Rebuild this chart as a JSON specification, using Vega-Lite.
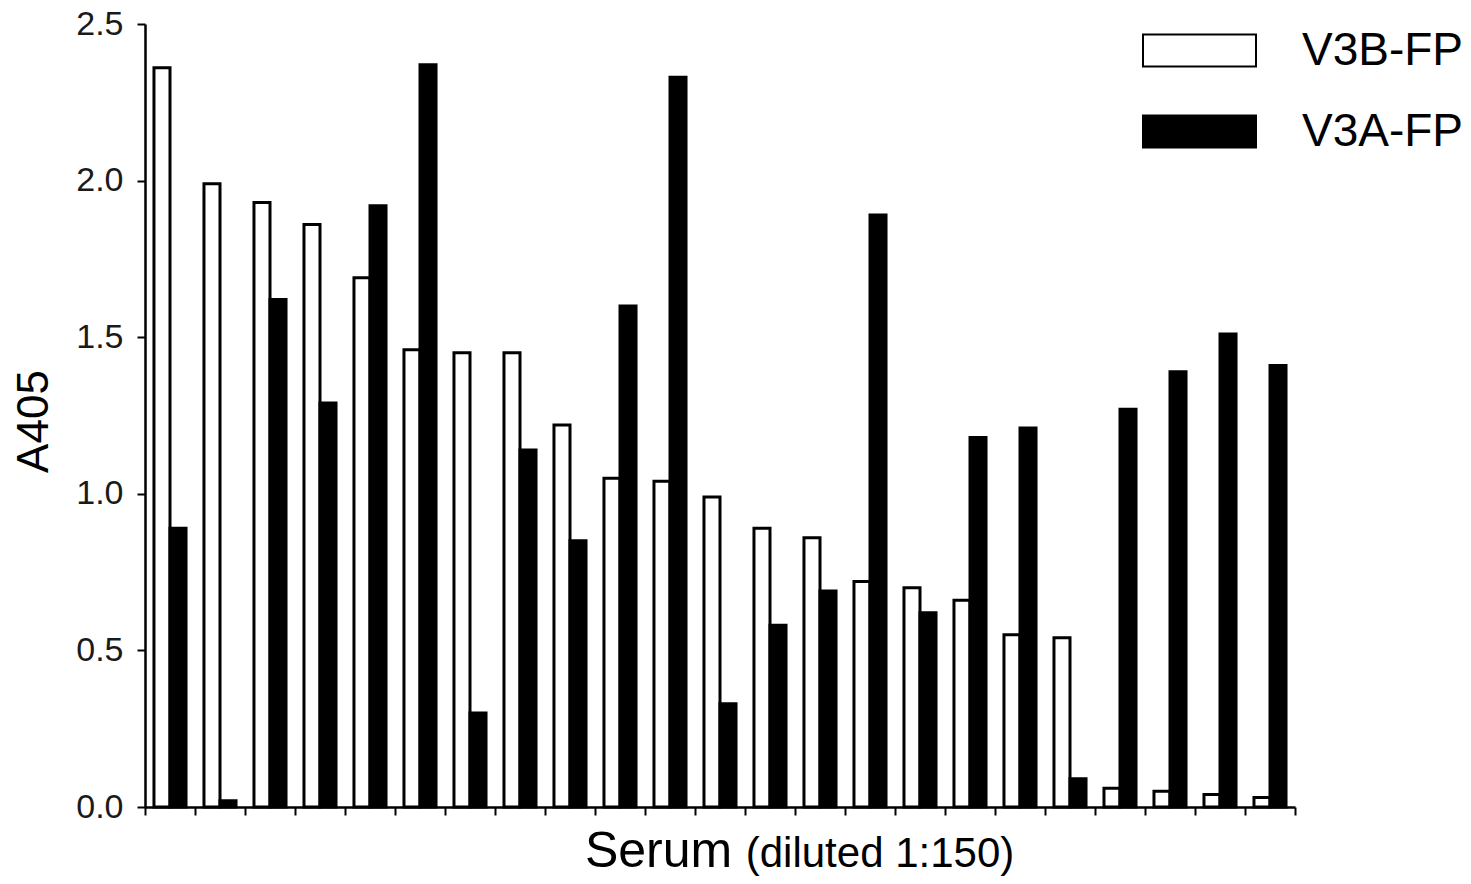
{
  "$schema": "https://vega.github.io/schema/vega-lite/v6.json",
  "width": 1150,
  "height": 783,
  "autosize": {"type": "none"},
  "padding": {"left": 145, "top": 24, "right": 176, "bottom": 77},
  "background": "white",
  "config": {
    "font": "Liberation Sans",
    "view": {"stroke": null},
    "axis": {"grid": false, "domainColor": "black", "tickColor": "black", "domainWidth": 2.5, "tickWidth": 2, "labelColor": "#1a1a1a", "titleColor": "black", "titleFontWeight": "normal", "labelFont": "Liberation Sans", "titleFont": "Liberation Sans"}
  },
  "title": {"text": "(diluted 1:150)", "orient": "bottom", "anchor": "middle", "fontSize": 42, "fontWeight": "normal", "font": "Liberation Sans", "color": "black", "dx": 160, "offset": -42},
  "data": {"values": [
    {"serum": 1, "antigen": "V3B-FP", "A405": 2.36}, {"serum": 1, "antigen": "V3A-FP", "A405": 0.89},
    {"serum": 2, "antigen": "V3B-FP", "A405": 1.99}, {"serum": 2, "antigen": "V3A-FP", "A405": 0.02},
    {"serum": 3, "antigen": "V3B-FP", "A405": 1.93}, {"serum": 3, "antigen": "V3A-FP", "A405": 1.62},
    {"serum": 4, "antigen": "V3B-FP", "A405": 1.86}, {"serum": 4, "antigen": "V3A-FP", "A405": 1.29},
    {"serum": 5, "antigen": "V3B-FP", "A405": 1.69}, {"serum": 5, "antigen": "V3A-FP", "A405": 1.92},
    {"serum": 6, "antigen": "V3B-FP", "A405": 1.46}, {"serum": 6, "antigen": "V3A-FP", "A405": 2.37},
    {"serum": 7, "antigen": "V3B-FP", "A405": 1.45}, {"serum": 7, "antigen": "V3A-FP", "A405": 0.30},
    {"serum": 8, "antigen": "V3B-FP", "A405": 1.45}, {"serum": 8, "antigen": "V3A-FP", "A405": 1.14},
    {"serum": 9, "antigen": "V3B-FP", "A405": 1.22}, {"serum": 9, "antigen": "V3A-FP", "A405": 0.85},
    {"serum": 10, "antigen": "V3B-FP", "A405": 1.05}, {"serum": 10, "antigen": "V3A-FP", "A405": 1.60},
    {"serum": 11, "antigen": "V3B-FP", "A405": 1.04}, {"serum": 11, "antigen": "V3A-FP", "A405": 2.33},
    {"serum": 12, "antigen": "V3B-FP", "A405": 0.99}, {"serum": 12, "antigen": "V3A-FP", "A405": 0.33},
    {"serum": 13, "antigen": "V3B-FP", "A405": 0.89}, {"serum": 13, "antigen": "V3A-FP", "A405": 0.58},
    {"serum": 14, "antigen": "V3B-FP", "A405": 0.86}, {"serum": 14, "antigen": "V3A-FP", "A405": 0.69},
    {"serum": 15, "antigen": "V3B-FP", "A405": 0.72}, {"serum": 15, "antigen": "V3A-FP", "A405": 1.89},
    {"serum": 16, "antigen": "V3B-FP", "A405": 0.70}, {"serum": 16, "antigen": "V3A-FP", "A405": 0.62},
    {"serum": 17, "antigen": "V3B-FP", "A405": 0.66}, {"serum": 17, "antigen": "V3A-FP", "A405": 1.18},
    {"serum": 18, "antigen": "V3B-FP", "A405": 0.55}, {"serum": 18, "antigen": "V3A-FP", "A405": 1.21},
    {"serum": 19, "antigen": "V3B-FP", "A405": 0.54}, {"serum": 19, "antigen": "V3A-FP", "A405": 0.09},
    {"serum": 20, "antigen": "V3B-FP", "A405": 0.06}, {"serum": 20, "antigen": "V3A-FP", "A405": 1.27},
    {"serum": 21, "antigen": "V3B-FP", "A405": 0.05}, {"serum": 21, "antigen": "V3A-FP", "A405": 1.39},
    {"serum": 22, "antigen": "V3B-FP", "A405": 0.04}, {"serum": 22, "antigen": "V3A-FP", "A405": 1.51},
    {"serum": 23, "antigen": "V3B-FP", "A405": 0.03}, {"serum": 23, "antigen": "V3A-FP", "A405": 1.41}
  ]},
  "mark": {"type": "bar", "stroke": "black", "strokeWidth": 3, "cornerRadius": 0},
  "encoding": {
    "x": {
      "field": "serum", "type": "ordinal",
      "scale": {"paddingInner": 0, "paddingOuter": 0},
      "axis": {"labels": false, "tickBand": "extent", "tickSize": 8, "title": "Serum", "titleFontSize": 50, "titleX": 513, "titleY": 59, "titleAlign": "center", "titleBaseline": "alphabetic"}
    },
    "xOffset": {
      "field": "antigen", "type": "nominal",
      "scale": {"domain": ["V3B-FP", "V3A-FP"], "paddingInner": 0, "paddingOuter": 0.56}
    },
    "y": {
      "field": "A405", "type": "quantitative",
      "scale": {"domain": [0, 2.5], "nice": false, "zero": true},
      "axis": {"values": [0, 0.5, 1, 1.5, 2, 2.5], "format": ".1f", "tickSize": 8, "labelFontSize": 34, "labelPadding": 14, "title": "A405", "titleFontSize": 44, "titleAngle": 270, "titleX": -111, "titleY": 397, "titleAlign": "center", "titleBaseline": "middle"}
    },
    "fill": {
      "field": "antigen", "type": "nominal",
      "scale": {"domain": ["V3B-FP", "V3A-FP"], "range": ["white", "black"]},
      "legend": {
        "title": null, "orient": "none", "legendX": 997, "legendY": -31,
        "symbolType": "M-1,-0.283H1V0.283H-1Z", "symbolSize": 12769, "symbolStrokeColor": "black", "symbolStrokeWidth": 2,
        "labelFontSize": 46, "labelColor": "black", "labelOffset": 45, "labelLimit": 400, "rowPadding": 0, "labelFont": "Liberation Sans"
      }
    }
  }
}
